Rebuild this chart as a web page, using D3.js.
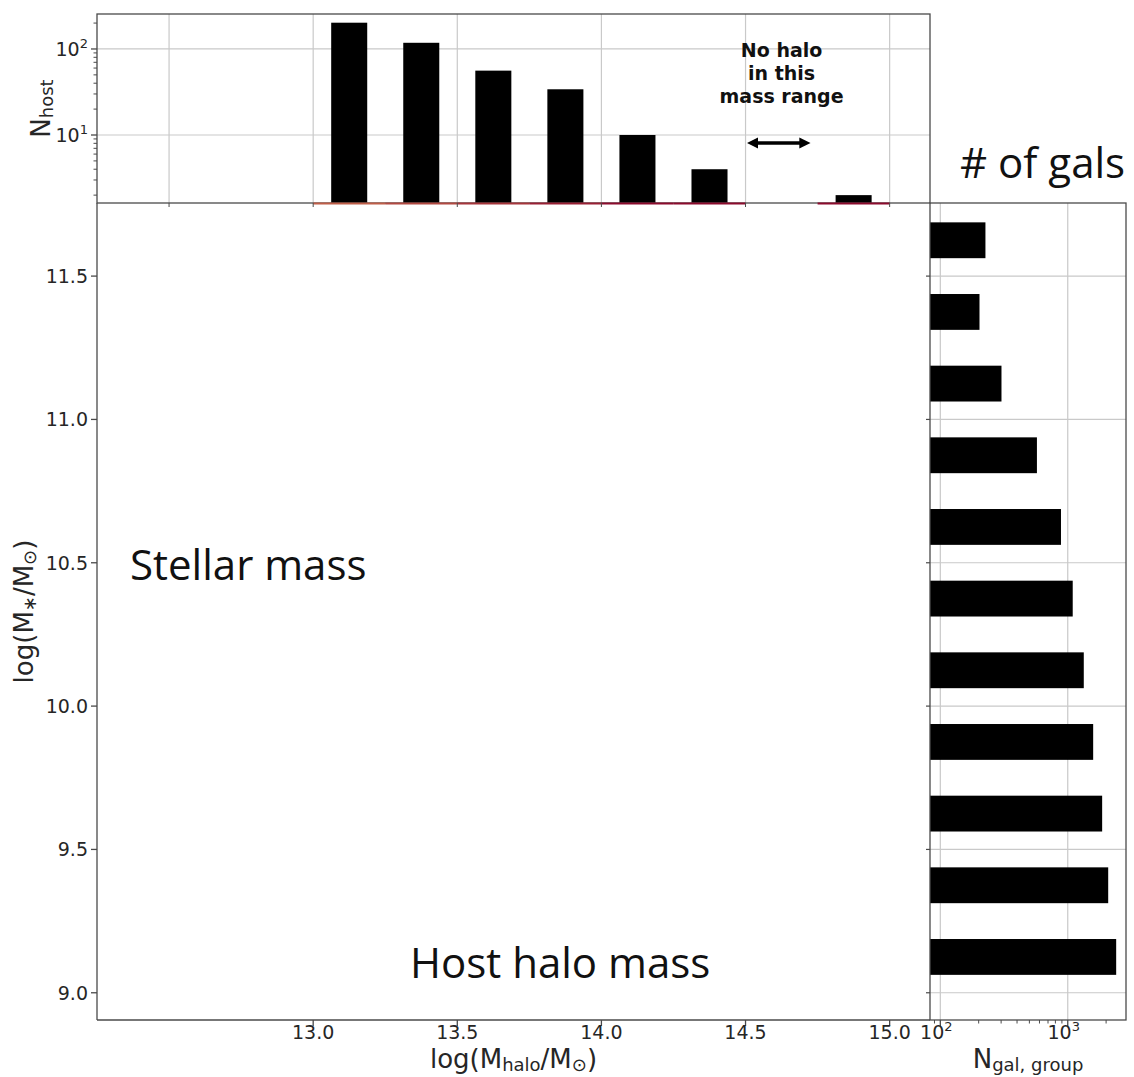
<!DOCTYPE html>
<html>
<head>
<meta charset="utf-8">
<script src="https://cdn.jsdelivr.net/npm/d3@7"></script>
<style>
  html, body { margin: 0; padding: 0; background: #fff; }
  svg { display: block; }
  .tick-label { font-family: "DejaVu Sans", sans-serif; font-size: 19px; fill: #262626; }
  .axis-label { font-family: "DejaVu Sans", sans-serif; font-size: 26px; fill: #262626; }
  .note { font-family: "Open Sans", "Noto Sans", sans-serif; font-size: 42px; fill: #111; }
</style>
</head>
<body>
<script>
// Host halo mass bins (lower edges, log M_halo) and number of host haloes per bin
const haloBinEdges = [13.0, 13.25, 13.5, 13.75, 14.0, 14.25, 14.5, 14.75];
const haloBinWidth = 0.25;
const nHost = [202, 118, 56, 34, 10, 4, 0, 2];

// Stellar mass bins (lower edges, log M_*) and number of group galaxies per bin
const stellarBinEdges = [9.0, 9.25, 9.5, 9.75, 10.0, 10.25, 10.5, 10.75, 11.0, 11.25, 11.5];
const stellarBinWidth = 0.25;
const nGal = [2399, 2077, 1862, 1583, 1336, 1094, 885, 573, 302, 203, 226];

// Tick values
const haloTicks = [13.0, 13.5, 14.0, 14.5, 15.0];
const haloGrid = [12.5, 13.0, 13.5, 14.0, 14.5, 15.0];
const stellarTicks = [9.0, 9.5, 10.0, 10.5, 11.0, 11.5];
const hostTicks = [10, 100];
const galTicks = [100, 1000];

const W = 1134, H = 1077;
const spine = "#4a4a4a", grid = "#c9c9c9";
const subSize = 18, subDrop = 3;

const svg = d3.select("body").append("svg").attr("width", W).attr("height", H);
svg.append("rect").attr("width", W).attr("height", H).attr("fill", "#fff");

// Panel frames
const mainP = { l: 97, r: 930, t: 203, b: 1020 };
const topP = { l: 97, r: 930, t: 14, b: 203 };
const sideP = { l: 930, r: 1126, t: 203, b: 1020 };

// Scales
const x = d3.scaleLinear().domain([12.25, 15.14]).range([mainP.l, mainP.r]);
const y = d3.scaleLinear().domain([8.905, 11.755]).range([mainP.b, mainP.t]);
const yHost = d3.scaleLog().domain([1.62, 255]).range([topP.b, topP.t]);
const xGal = d3.scaleLog().domain([83, 2865]).range([sideP.l, sideP.r]);

// ---------- Top panel: host halo counts ----------
const gTop = svg.append("g");
gTop.selectAll("line.gx").data(haloGrid).join("line")
  .attr("x1", d => x(d)).attr("x2", d => x(d))
  .attr("y1", topP.t).attr("y2", topP.b)
  .attr("stroke", grid).attr("stroke-width", 1.2);
gTop.selectAll("line.gy").data(hostTicks).join("line")
  .attr("x1", topP.l).attr("x2", topP.r)
  .attr("y1", d => yHost(d)).attr("y2", d => yHost(d))
  .attr("stroke", grid).attr("stroke-width", 1.2);

const hostData = haloBinEdges.map((e, i) => ({ e, n: nHost[i] }));
gTop.selectAll("rect.bar").data(hostData.filter(d => d.n > 0)).join("rect")
  .attr("x", d => x(d.e + haloBinWidth * 0.25))
  .attr("width", d => x(d.e + haloBinWidth * 0.75) - x(d.e + haloBinWidth * 0.25))
  .attr("y", d => yHost(d.n))
  .attr("height", d => topP.b - yHost(d.n))
  .attr("fill", "#000");

// frame
gTop.append("rect").attr("x", topP.l).attr("y", topP.t)
  .attr("width", topP.r - topP.l).attr("height", topP.b - topP.t)
  .attr("fill", "none").attr("stroke", spine).attr("stroke-width", 1.3);

// coloured baseline under each occupied halo bin
const baseColor = d3.scaleLinear().domain([13.0, 14.0]).range(["#bf5e48", "#8c0b2d"]).clamp(true);
gTop.selectAll("line.base").data(hostData.filter(d => d.n > 0)).join("line")
  .attr("x1", d => x(d.e)).attr("x2", d => x(d.e + haloBinWidth))
  .attr("y1", topP.b + 0.5).attr("y2", topP.b + 0.5)
  .attr("stroke", d => baseColor(d.e)).attr("stroke-width", 2.2);

// left axis of top panel (log)
const gTopAxis = gTop.append("g").attr("transform", `translate(${topP.l},0)`);
const minorHost = [];
[1, 10, 100].forEach(dec => { for (let k = 1; k < 10; k++) { const v = k * dec; if (v > yHost.domain()[0] && v < yHost.domain()[1]) minorHost.push(v); } });
gTopAxis.selectAll("line.minor").data(minorHost.filter(v => !hostTicks.includes(v))).join("line")
  .attr("x1", -3.5).attr("x2", 0).attr("y1", d => yHost(d)).attr("y2", d => yHost(d))
  .attr("stroke", spine).attr("stroke-width", 1);
gTopAxis.selectAll("line.major").data(hostTicks).join("line")
  .attr("x1", -6).attr("x2", 0).attr("y1", d => yHost(d)).attr("y2", d => yHost(d))
  .attr("stroke", spine).attr("stroke-width", 1.3);
const hostLab = gTopAxis.selectAll("text").data(hostTicks).join("text")
  .attr("class", "tick-label").attr("x", -9).attr("y", d => yHost(d) + 7)
  .attr("text-anchor", "end");
hostLab.append("tspan").text("10");
hostLab.append("tspan").attr("dy", -8).attr("font-size", 13).text(d => Math.round(Math.log10(d)));

// small ticks along the bottom of the top panel
gTop.selectAll("line.bt").data(haloGrid).join("line")
  .attr("x1", d => x(d)).attr("x2", d => x(d)).attr("y1", topP.b).attr("y2", topP.b + 4)
  .attr("stroke", spine).attr("stroke-width", 1);

// annotation about the empty bin
const emptyBin = hostData.find(d => d.n === 0);
const noteX = x(emptyBin.e + haloBinWidth / 2);
const note = gTop.append("text")
  .attr("text-anchor", "middle")
  .attr("font-family", "DejaVu Sans, sans-serif").attr("font-weight", "bold")
  .attr("font-size", 19).attr("fill", "#111");
["No halo", "in this", "mass range"].forEach((t, i) => {
  note.append("tspan").attr("x", noteX).attr("y", 57 + i * 23).text(t);
});
const defs = svg.append("defs");
defs.append("marker").attr("id", "ah").attr("viewBox", "0 0 10 10")
  .attr("refX", 6).attr("refY", 5).attr("markerWidth", 3.2).attr("markerHeight", 3.2)
  .attr("orient", "auto-start-reverse")
  .append("path").attr("d", "M0,0 L10,5 L0,10 z").attr("fill", "#000");
gTop.append("line")
  .attr("x1", x(emptyBin.e + 0.02)).attr("x2", x(emptyBin.e + haloBinWidth - 0.04))
  .attr("y1", 143).attr("y2", 143)
  .attr("stroke", "#000").attr("stroke-width", 3.5)
  .attr("marker-start", "url(#ah)").attr("marker-end", "url(#ah)");

// ---------- Side panel: galaxy counts per stellar-mass bin ----------
const gSide = svg.append("g");
gSide.selectAll("line.gx").data(galTicks).join("line")
  .attr("x1", d => xGal(d)).attr("x2", d => xGal(d))
  .attr("y1", sideP.t).attr("y2", sideP.b)
  .attr("stroke", grid).attr("stroke-width", 1.2);
gSide.selectAll("line.gy").data(stellarTicks).join("line")
  .attr("x1", sideP.l).attr("x2", sideP.r)
  .attr("y1", d => y(d)).attr("y2", d => y(d))
  .attr("stroke", grid).attr("stroke-width", 1.2);

const galData = stellarBinEdges.map((e, i) => ({ e, n: nGal[i] }));
gSide.selectAll("rect.bar").data(galData).join("rect")
  .attr("x", sideP.l)
  .attr("width", d => xGal(d.n) - sideP.l)
  .attr("y", d => y(d.e + stellarBinWidth * 0.75))
  .attr("height", d => y(d.e + stellarBinWidth * 0.25) - y(d.e + stellarBinWidth * 0.75))
  .attr("fill", "#000");

gSide.append("rect").attr("x", sideP.l).attr("y", sideP.t)
  .attr("width", sideP.r - sideP.l).attr("height", sideP.b - sideP.t)
  .attr("fill", "none").attr("stroke", spine).attr("stroke-width", 1.3);

// left ticks of side panel (shared stellar-mass axis, unlabeled)
gSide.selectAll("line.lt").data(stellarTicks).join("line")
  .attr("x1", sideP.l - 4).attr("x2", sideP.l).attr("y1", d => y(d)).attr("y2", d => y(d))
  .attr("stroke", spine).attr("stroke-width", 1.2);

// bottom log axis of side panel
const minorGal = [];
[10, 100, 1000].forEach(dec => { for (let k = 1; k < 10; k++) { const v = k * dec; if (v > xGal.domain()[0] && v < xGal.domain()[1]) minorGal.push(v); } });
gSide.selectAll("line.minor").data(minorGal.filter(v => !galTicks.includes(v))).join("line")
  .attr("x1", d => xGal(d)).attr("x2", d => xGal(d)).attr("y1", sideP.b).attr("y2", sideP.b + 3.5)
  .attr("stroke", spine).attr("stroke-width", 1);
gSide.selectAll("line.major").data(galTicks).join("line")
  .attr("x1", d => xGal(d)).attr("x2", d => xGal(d)).attr("y1", sideP.b).attr("y2", sideP.b + 6)
  .attr("stroke", spine).attr("stroke-width", 1.3);
const galLab = gSide.selectAll("text.tl").data(galTicks).join("text")
  .attr("class", "tick-label").attr("x", d => xGal(d) - 4).attr("y", sideP.b + 19)
  .attr("text-anchor", "middle");
galLab.append("tspan").text("10");
galLab.append("tspan").attr("dy", -8).attr("font-size", 13).text(d => Math.round(Math.log10(d)));

// ---------- Main panel axes ----------
const gMain = svg.append("g");
gMain.append("line").attr("x1", mainP.l).attr("x2", mainP.l).attr("y1", mainP.t).attr("y2", mainP.b)
  .attr("stroke", spine).attr("stroke-width", 1.3);
gMain.append("line").attr("x1", mainP.l).attr("x2", mainP.r).attr("y1", mainP.b).attr("y2", mainP.b)
  .attr("stroke", spine).attr("stroke-width", 1.3);

gMain.selectAll("line.xt").data(haloTicks).join("line")
  .attr("x1", d => x(d)).attr("x2", d => x(d)).attr("y1", mainP.b).attr("y2", mainP.b + 6)
  .attr("stroke", spine).attr("stroke-width", 1.3);
gMain.selectAll("text.xl").data(haloTicks).join("text")
  .attr("class", "tick-label").attr("x", d => x(d)).attr("y", mainP.b + 19)
  .attr("text-anchor", "middle").text(d => d.toFixed(1));

gMain.selectAll("line.yt").data(stellarTicks).join("line")
  .attr("x1", mainP.l - 6).attr("x2", mainP.l).attr("y1", d => y(d)).attr("y2", d => y(d))
  .attr("stroke", spine).attr("stroke-width", 1.3);
gMain.selectAll("text.yl").data(stellarTicks).join("text")
  .attr("class", "tick-label").attr("x", mainP.l - 9).attr("y", d => y(d) + 7)
  .attr("text-anchor", "end").text(d => d.toFixed(1));

// ---------- Axis titles ----------
function subscripted(sel, parts) {
  // parts: [text, isSub] pairs
  parts.forEach(([t, sub], i) => {
    const prevSub = i > 0 && parts[i - 1][1];
    const ts = sel.append("tspan").text(t);
    if (sub) ts.attr("dy", subDrop).attr("font-size", subSize);
    else if (prevSub) ts.attr("dy", -subDrop);
  });
}

const xTitle = svg.append("text").attr("class", "axis-label")
  .attr("x", (mainP.l + mainP.r) / 2).attr("y", 1068).attr("text-anchor", "middle");
subscripted(xTitle, [["log(M", false], ["halo", true], ["/M", false], ["⊙", true], [")", false]]);

const yTitle = svg.append("text").attr("class", "axis-label")
  .attr("transform", `translate(33,${(mainP.t + mainP.b) / 2}) rotate(-90)`)
  .attr("text-anchor", "middle");
subscripted(yTitle, [["log(M", false], ["∗", true], ["/M", false], ["⊙", true], [")", false]]);

const hostTitle = svg.append("text").attr("class", "axis-label")
  .attr("transform", `translate(50,${(topP.t + topP.b) / 2}) rotate(-90)`)
  .attr("text-anchor", "middle");
subscripted(hostTitle, [["N", false], ["host", true]]);

const galTitle = svg.append("text").attr("class", "axis-label")
  .attr("x", (sideP.l + sideP.r) / 2).attr("y", 1068).attr("text-anchor", "middle");
subscripted(galTitle, [["N", false], ["gal, group", true]]);

// ---------- Panel captions ----------
svg.append("text").attr("class", "note").attr("x", 960).attr("y", 178).text("# of gals");
svg.append("text").attr("class", "note").attr("x", 130).attr("y", 580).text("Stellar mass");
svg.append("text").attr("class", "note").attr("x", 410).attr("y", 978).text("Host halo mass");
</script>
</body>
</html>
